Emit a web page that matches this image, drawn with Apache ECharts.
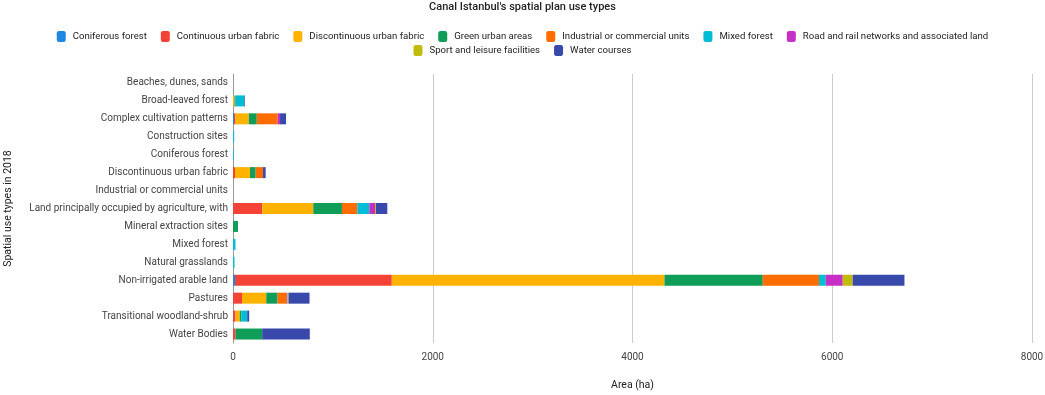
<!DOCTYPE html>
<html>
<head>
<meta charset="utf-8">
<script src="https://cdn.jsdelivr.net/npm/echarts@6/dist/echarts.min.js"></script>
<style>
  html, body { margin: 0; padding: 0; background: #fff; }
  #chart { width: 1045px; height: 395px; }
</style>
</head>
<body>
<div id="chart"></div>
<script>
//*************** data ***************
var categories = ['Beaches, dunes, sands', 'Broad-leaved forest', 'Complex cultivation patterns', 'Construction sites',
    'Coniferous forest', 'Discontinuous urban fabric', 'Industrial or commercial units',
    'Land principally occupied by agriculture, with', 'Mineral extraction sites', 'Mixed forest',
    'Natural grasslands', 'Non-irrigated arable land', 'Pastures', 'Transitional woodland-shrub', 'Water Bodies'];

var coniferous_forest   = [0, 0, 10, 0, 0, 0, 0, 0, 0, 0, 0, 20, 0, 0, 0];
var continuous_urban    = [0, 0, 15, 0, 0, 20, 0, 293, 0, 0, 0, 1570, 90, 25, 25];
var discontinuous_urban = [0, 15, 133, 0, 0, 150, 0, 511, 0, 0, 0, 2730, 243, 43, 0];
var green_urban         = [0, 12, 80, 0, 0, 57, 0, 287, 50, 0, 0, 984, 113, 17, 267];
var industrial          = [0, 0, 210, 0, 0, 73, 0, 154, 0, 0, 0, 564, 87, 0, 0];
var mixed_forest        = [0, 87, 0, 12, 8, 0, 0, 120, 0, 25, 15, 67, 0, 57, 0];
var road_rail           = [0, 0, 23, 0, 0, 0, 0, 57, 0, 0, 0, 170, 10, 0, 0];
var sport_leisure       = [0, 0, 0, 0, 0, 0, 0, 10, 0, 0, 0, 100, 13, 0, 0];
var water_courses       = [0, 6, 60, 0, 0, 27, 0, 113, 0, 0, 0, 518, 210, 20, 477];

var series_names = ['Coniferous forest', 'Continuous urban fabric', 'Discontinuous urban fabric', 'Green urban areas',
    'Industrial or commercial units', 'Mixed forest', 'Road and rail networks and associated land',
    'Sport and leisure facilities', 'Water courses'];
var series_data = [coniferous_forest, continuous_urban, discontinuous_urban, green_urban, industrial,
    mixed_forest, road_rail, sport_leisure, water_courses];
var colors = ['#1e88e5', '#f44336', '#ffb300', '#0f9d58', '#ff6d00', '#00bcd4', '#c62fc6', '#c0bb0c', '#3949ab'];

//*************** chart ***************
var chart = echarts.init(document.getElementById('chart'));

var series = series_names.map(function (name, i) {
    return {
        name: name,
        type: 'bar',
        stack: 'total',
        barWidth: 11,
        itemStyle: {color: colors[i]},
        data: series_data[i]
    };
});

// legend is split in two rows by hand so the row spacing stays tight
function legend_row(top, names) {
    return {
        top: top,
        left: 'center',
        padding: 0,
        itemWidth: 9,
        itemHeight: 11,
        itemGap: 14,
        icon: 'roundRect',
        textStyle: {fontSize: 9.6, color: '#222', padding: [0, 0, 0, 2]},
        data: names
    };
}

chart.setOption({
    color: colors,
    textStyle: {fontFamily: 'Roboto'},
    title: {
        text: "Canal Istanbul's spatial plan use types",
        left: 'center',
        top: 2,
        padding: 0,
        textStyle: {fontSize: 11, fontWeight: 500, color: '#222', fontFamily: 'Roboto'}
    },
    legend: [
        legend_row(31, series_names.slice(0, 7)),
        legend_row(45, series_names.slice(7))
    ],
    grid: {
        left: 233,
        right: 13,
        top: 74,
        height: 269,
        containLabel: false,
        outerBoundsMode: 'none'
    },
    xAxis: {
        type: 'value',
        min: 0,
        max: 8000,
        interval: 2000,
        name: 'Area (ha)',
        nameLocation: 'middle',
        nameGap: 37,
        nameTextStyle: {fontSize: 10.5, color: '#222'},
        axisLine: {show: false},
        axisTick: {show: false},
        axisLabel: {
            fontSize: 10, color: '#444', margin: 9,
            formatter: function (v) { return String(v); }
        },
        splitLine: {lineStyle: {color: '#cccccc'}}
    },
    yAxis: {
        type: 'category',
        inverse: true,
        data: categories,
        name: 'Spatial use types in 2018',
        nameLocation: 'middle',
        nameRotate: 90,
        nameGap: 219,
        nameTextStyle: {fontSize: 10.5, color: '#222'},
        axisLine: {show: true, lineStyle: {color: '#999'}},
        axisTick: {show: false},
        axisLabel: {fontSize: 10, color: '#444', margin: 5}
    },
    series: series
});
</script>
</body>
</html>
